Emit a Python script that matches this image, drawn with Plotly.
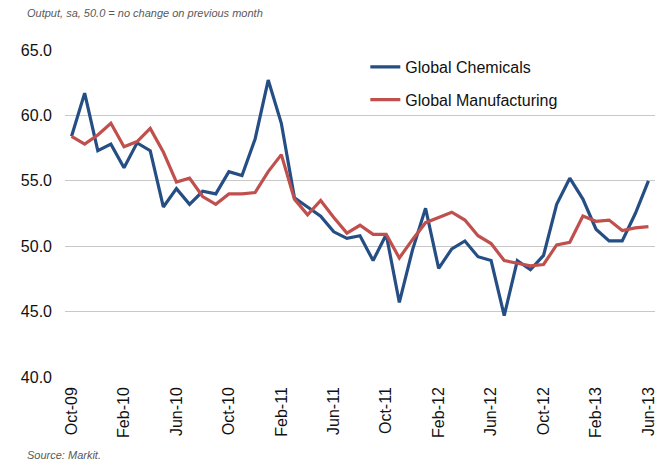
import plotly.graph_objects as go

months = ["Oct-09", "Nov-09", "Dec-09", "Jan-10", "Feb-10", "Mar-10", "Apr-10", "May-10", "Jun-10",
          "Jul-10", "Aug-10", "Sep-10", "Oct-10", "Nov-10", "Dec-10", "Jan-11", "Feb-11", "Mar-11",
          "Apr-11", "May-11", "Jun-11", "Jul-11", "Aug-11", "Sep-11", "Oct-11", "Nov-11", "Dec-11",
          "Jan-12", "Feb-12", "Mar-12", "Apr-12", "May-12", "Jun-12", "Jul-12", "Aug-12", "Sep-12",
          "Oct-12", "Nov-12", "Dec-12", "Jan-13", "Feb-13", "Mar-13", "Apr-13", "May-13", "Jun-13"]

chemicals = [58.4, 61.7, 57.3, 57.8, 56.0, 57.9, 57.3, 53.0, 54.4, 53.2, 54.2, 54.0, 55.7, 55.4,
             58.2, 62.7, 59.4, 53.7, 53.0, 52.3, 51.1, 50.6, 50.8, 48.9, 50.9, 45.7, 49.7, 52.9,
             48.3, 49.8, 50.4, 49.2, 48.9, 44.7, 48.9, 48.2, 49.3, 53.2, 55.2, 53.6, 51.3, 50.4,
             50.4, 52.5, 55.0]

manufacturing = [58.4, 57.8, 58.5, 59.4, 57.6, 58.0, 59.0, 57.2, 54.9, 55.2, 53.8, 53.2, 54.0, 54.0,
                 54.1, 55.7, 57.0, 53.6, 52.4, 53.5, 52.2, 51.0, 51.6, 50.9, 50.9, 49.1, 50.5, 51.8,
                 52.2, 52.6, 52.0, 50.8, 50.2, 48.9, 48.7, 48.5, 48.6, 50.1, 50.3, 52.3, 51.9, 52.0,
                 51.2, 51.4, 51.5]

y_ticks = [40, 45, 50, 55, 60, 65]

idx = list(range(len(months)))
tick_idx = idx[::4]

fig = go.Figure()
fig.add_trace(go.Scatter(x=idx, y=chemicals, mode="lines", name="Global Chemicals",
                         legendgroup="a", line=dict(color="#254E84", width=3.2)))
fig.add_trace(go.Scatter(x=idx, y=manufacturing, mode="lines", name="Global Manufacturing",
                         legendgroup="b", line=dict(color="#C0504D", width=3.2)))

fig.update_layout(
    width=668, height=461,
    margin=dict(l=65, r=11, t=50, b=84),
    paper_bgcolor="white", plot_bgcolor="white",
    font=dict(family="Arial, Liberation Sans", size=16, color="#111"),
    showlegend=True,
    legend=dict(x=0.509, y=1.0, xanchor="left", yanchor="top", traceorder="grouped",
                tracegroupgap=9, font=dict(size=16, color="#111"), bgcolor="rgba(0,0,0,0)"),
    xaxis=dict(range=[-0.5, 44.5], tickvals=tick_idx, ticktext=[months[i] for i in tick_idx],
               tickangle=-90, showgrid=False, zeroline=False, showline=False, ticks="",
               ticklabelstandoff=6),
    yaxis=dict(range=[40, 65], tickvals=y_ticks, ticktext=[f"{v:.1f}" for v in y_ticks],
               showgrid=True, gridcolor="#C8C8C8", gridwidth=1, zeroline=False, showline=False,
               ticks="", ticklabelstandoff=12),
    annotations=[
        dict(text="<i>Output, sa, 50.0 = no change on previous month</i>", xref="paper", yref="paper",
             x=-0.068, y=1.0, yshift=37, xanchor="left", yanchor="middle", showarrow=False,
             font=dict(size=11, color="#595959", family="Arial, Liberation Sans")),
        dict(text="<i>Source: Markit.</i>", xref="paper", yref="paper",
             x=-0.068, y=0, yshift=-78, xanchor="left", yanchor="middle", showarrow=False,
             font=dict(size=11, color="#595959", family="Arial, Liberation Sans")),
    ],
)

# the page body has a default margin; drop it so the chart fills the window exactly
fig.write_html("out.html", config={"displayModeBar": False},
               post_script="document.body.style.margin='0';")
